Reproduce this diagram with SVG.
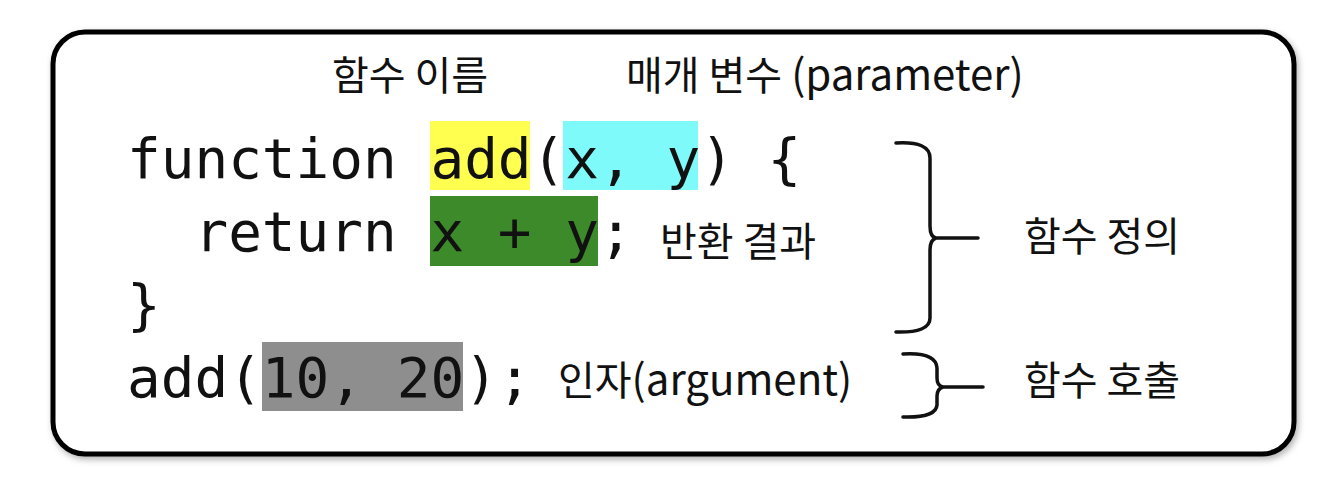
<svg xmlns="http://www.w3.org/2000/svg" width="1342" height="496" viewBox="0 0 1342 496">
<style>
.code{font-family:"DejaVu Sans Mono","Liberation Mono",monospace;font-size:56px;fill:#111;}
.lbl{font-family:"Noto Sans CJK KR","Noto Sans",sans-serif;font-size:40px;fill:#111;}
.lat{font-size:42px;}
.br{fill:none;stroke:#111;stroke-width:3.5;stroke-linecap:round;stroke-linejoin:round;}
</style>
<defs>
<filter id="sh" x="-5%" y="-5%" width="110%" height="115%">
<feDropShadow dx="2" dy="3" stdDeviation="3" flood-color="#000" flood-opacity="0.3"/>
</filter>
</defs>
<rect width="1342" height="496" fill="#fff"/>
<g id="frame">
<rect x="53" y="32" width="1241" height="422" rx="32" fill="#fff" stroke="#000" stroke-width="5" filter="url(#sh)"/>
</g>
<g id="highlights">
<rect x="430" y="121" width="100" height="69" fill="#ffff4f"/>
<rect x="563" y="121" width="135" height="69" fill="#7ffafa"/>
<rect x="430" y="196" width="168" height="70" fill="#3c8a2a"/>
<rect x="262" y="342" width="201" height="69" fill="#8e8e8e"/>
</g>
<g id="code">
<text class="code" x="127" y="178" xml:space="preserve">function add(x, y) {</text>
<text class="code" x="127" y="251" xml:space="preserve">  return x + y;</text>
<text class="code" x="127" y="324">}</text>
<text class="code" x="127" y="397" xml:space="preserve">add(10, 20);</text>
</g>
<g id="label-name"><text class="lbl" x="332" y="90">함수 이름</text></g>
<g id="label-param"><text class="lbl" x="626" y="90">매개 변수 <tspan class="lat">(parameter)</tspan></text></g>
<g id="label-return"><text class="lbl" x="660" y="256">반환 결과</text></g>
<g id="label-arg"><text class="lbl" x="558" y="395">인자<tspan class="lat">(argument)</tspan></text></g>
<g id="label-def"><text class="lbl" x="1024" y="251">함수 정의</text></g>
<g id="label-call"><text class="lbl" x="1024" y="395">함수 호출</text></g>
<g id="connectors">
<path class="br" d="M896,143 Q930,141 930,158 L930,226 Q930,237 936,238 L978,238 M936,238 Q930,240 930,250 L930,318 Q930,333 896,332"/>
<path class="br" d="M903,354 Q936,352 937,368 L937,378 Q937,386 943,387 L983,387 M943,387 Q937,389 937,396 L937,405 Q936,418 903,417"/>
</g>
</svg>
